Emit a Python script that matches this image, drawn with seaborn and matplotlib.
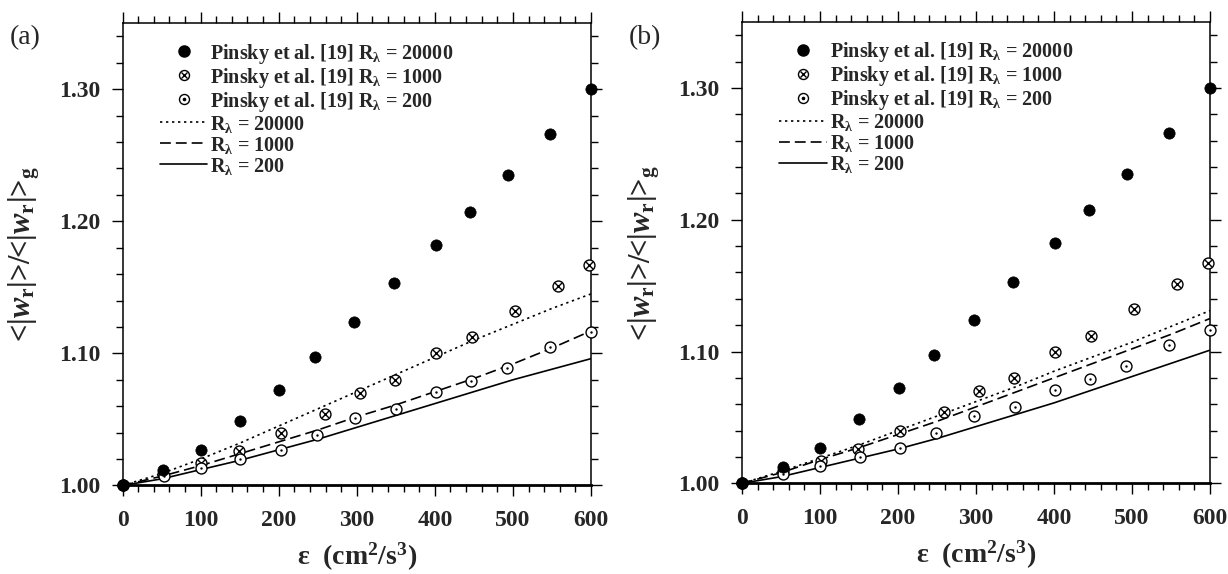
import numpy as np
import pandas as pd
import matplotlib
matplotlib.use("Agg")
import matplotlib.pyplot as plt
import seaborn as sns
from matplotlib.lines import Line2D
from matplotlib.legend_handler import HandlerTuple
from matplotlib.ticker import MultipleLocator, FormatStrFormatter

# ---------------- data ----------------
# Pinsky et al. [19] reference points (same in both panels)
pinsky_20000_x = [0, 52, 100, 150, 201, 246, 297, 348, 401, 445, 494, 547, 600]
pinsky_20000_y = [1.000, 1.012, 1.027, 1.049, 1.072, 1.097, 1.124, 1.153, 1.182, 1.207, 1.235, 1.266, 1.300]

pinsky_1000_x = [0, 52, 101, 149, 203, 259, 304, 349, 401, 448, 503, 558, 597]
pinsky_1000_y = [1.000, 1.009, 1.017, 1.026, 1.040, 1.054, 1.070, 1.080, 1.100, 1.112, 1.132, 1.151, 1.167]

pinsky_200_x = [0, 53, 100, 151, 203, 249, 298, 350, 401, 446, 493, 547, 600]
pinsky_200_y = [1.000, 1.007, 1.013, 1.020, 1.027, 1.038, 1.051, 1.058, 1.071, 1.079, 1.089, 1.105, 1.116]

# model curves
eps = [0, 50, 100, 150, 200, 250, 300, 350, 400, 450, 500, 550, 600]
a_20000 = [1.000, 1.009, 1.020, 1.032, 1.045, 1.058, 1.071, 1.084, 1.097, 1.110, 1.122, 1.134, 1.145]
a_1000 = [1.000, 1.007, 1.015, 1.024, 1.033, 1.042, 1.052, 1.061, 1.071, 1.081, 1.092, 1.104, 1.117]
a_200 = [1.000, 1.005, 1.012, 1.019, 1.027, 1.035, 1.044, 1.053, 1.062, 1.071, 1.080, 1.088, 1.096]

b_20000 = [1.000, 1.009, 1.019, 1.029, 1.040, 1.051, 1.062, 1.073, 1.085, 1.096, 1.107, 1.119, 1.131]
b_1000 = [1.000, 1.008, 1.018, 1.027, 1.037, 1.047, 1.058, 1.069, 1.080, 1.091, 1.102, 1.113, 1.125]
b_200 = [1.000, 1.005, 1.012, 1.019, 1.026, 1.034, 1.043, 1.052, 1.061, 1.071, 1.081, 1.091, 1.101]

panel_labels = ["(a)", "(b)"]
x_ticks = [0, 100, 200, 300, 400, 500, 600]
y_ticks = [1.00, 1.10, 1.20, 1.30]

# ---------------- style ----------------
sns.set_theme(style="ticks")
plt.rcParams["font.family"] = ["Liberation Serif", "DejaVu Serif"]
plt.rcParams["font.weight"] = "bold"
plt.rcParams["mathtext.fontset"] = "custom"
plt.rcParams["mathtext.rm"] = "Liberation Serif"
plt.rcParams["mathtext.it"] = "Liberation Serif:italic"
plt.rcParams["mathtext.bf"] = "Liberation Serif:bold"

fig = plt.figure(figsize=(12.28, 5.74), dpi=100)
ax_a = fig.add_axes([0.0998, 0.1542, 0.3815, 0.8057])
ax_b = fig.add_axes([0.6042, 0.1580, 0.3811, 0.8037])

ms_fill = 66
ms_open = 62

DOT = (0, (1.4, 2.2))
DASH = (0, (6.5, 3.0))


def draw(ax, lines, tag):
    df20 = pd.DataFrame({"x": pinsky_20000_x, "y": pinsky_20000_y})
    df10 = pd.DataFrame({"x": pinsky_1000_x, "y": pinsky_1000_y})
    df2 = pd.DataFrame({"x": pinsky_200_x, "y": pinsky_200_y})
    dfl = pd.DataFrame({"x": eps, "y20000": lines[0], "y1000": lines[1], "y200": lines[2]})

    sns.lineplot(data=dfl, x="x", y="y20000", ax=ax, color="black", lw=1.2,
                 linestyle=DOT, sort=False, estimator=None)
    sns.lineplot(data=dfl, x="x", y="y1000", ax=ax, color="black", lw=1.2,
                 linestyle=DASH, sort=False, estimator=None)
    sns.lineplot(data=dfl, x="x", y="y200", ax=ax, color="black", lw=1.2,
                 linestyle="-", sort=False, estimator=None)

    sns.scatterplot(data=df20, x="x", y="y", ax=ax, marker="o", s=ms_fill,
                    color="black", edgecolor="black", linewidth=0.5, clip_on=False, zorder=5)
    sns.scatterplot(data=df10, x="x", y="y", ax=ax, marker="o", s=ms_open,
                    facecolor="white", edgecolor="black", linewidth=1.0, clip_on=False, zorder=4)
    sns.scatterplot(data=df10, x="x", y="y", ax=ax, marker="x", s=ms_open * 0.42,
                    color="black", linewidth=1.0, clip_on=False, zorder=4)
    sns.scatterplot(data=df2, x="x", y="y", ax=ax, marker="o", s=ms_open,
                    facecolor="white", edgecolor="black", linewidth=1.0, clip_on=False, zorder=4)
    sns.scatterplot(data=df2, x="x", y="y", ax=ax, marker="o", s=3,
                    color="black", linewidth=0, clip_on=False, zorder=4)

    ax.set_xlim(0, 600)
    ax.set_ylim(1.0, 1.35)
    ax.xaxis.set_major_locator(MultipleLocator(100))
    ax.xaxis.set_minor_locator(MultipleLocator(20))
    ax.yaxis.set_major_locator(MultipleLocator(0.10))
    ax.yaxis.set_minor_locator(MultipleLocator(0.02))
    ax.yaxis.set_major_formatter(FormatStrFormatter("%.2f"))
    ax.set_xticks(x_ticks)
    ax.set_yticks(y_ticks)
    ax.tick_params(which="both", direction="out", top=True, right=True,
                   labeltop=False, labelright=False, width=1.0, color="black")
    ax.tick_params(which="major", length=8, labelsize=17)
    ax.tick_params(axis="x", which="major", pad=10)
    ax.tick_params(axis="y", which="major", pad=8)
    ax.tick_params(which="minor", length=5)
    for lab in ax.get_xticklabels() + ax.get_yticklabels():
        lab.set_fontweight("bold")
    for sp in ax.spines.values():
        sp.set_visible(True)
        sp.set_color("black")
        sp.set_linewidth(1.1)
    ax.spines["bottom"].set_linewidth(2.0)

    ax.set_xlabel(r"$\mathrm{\varepsilon}$  (cm$^{\mathbf{2}}$/s$^{\mathbf{3}}$)",
                  fontsize=20, fontweight="bold", labelpad=7)
    ax.set_ylabel(r"<|$\mathit{w}_{\mathbf{r}}$|>/<|$\mathit{w}_{\mathbf{r}}$|>$_{\mathbf{g}}$",
                  fontsize=22, fontweight="bold", labelpad=12)

    h1 = Line2D([], [], ls="none", marker="o", ms=8, color="black")
    h2a = Line2D([], [], ls="none", marker="o", ms=7.2, mfc="white", mec="black", mew=1.0)
    h2b = Line2D([], [], ls="none", marker="x", ms=4.6, color="black", mew=1.0)
    h3a = Line2D([], [], ls="none", marker="o", ms=7.2, mfc="white", mec="black", mew=1.0)
    h3b = Line2D([], [], ls="none", marker="o", ms=1.6, color="black")
    l1 = Line2D([], [], color="black", lw=1.2, ls=DOT)
    l2 = Line2D([], [], color="black", lw=1.2, ls=DASH)
    l3 = Line2D([], [], color="black", lw=1.2, ls="-")
    labels = [r"Pinsky et al. [19] R$_{\mathrm{\lambda}}$ = 20000",
              r"Pinsky et al. [19] R$_{\mathrm{\lambda}}$ = 1000",
              r"Pinsky et al. [19] R$_{\mathrm{\lambda}}$ = 200",
              r"R$_{\mathrm{\lambda}}$ = 20000",
              r"R$_{\mathrm{\lambda}}$ = 1000",
              r"R$_{\mathrm{\lambda}}$ = 200"]
    ax.legend([h1, (h2a, h2b), (h3a, h3b), l1, l2, l3], labels,
              handler_map={tuple: HandlerTuple(ndivide=1, pad=0)},
              loc="upper left", bbox_to_anchor=(0.080, 0.960), frameon=False,
              prop={"family": "Liberation Serif", "weight": "bold", "size": 14.5},
              handlelength=2.35, handletextpad=0.15, labelspacing=0.0,
              borderpad=0, borderaxespad=0)
    fig.text(ax.get_position().x0 - 0.092, 0.935, tag, fontsize=20, fontweight="normal",
             ha="left", va="center")


draw(ax_a, [a_20000, a_1000, a_200], panel_labels[0])
draw(ax_b, [b_20000, b_1000, b_200], panel_labels[1])

fig.savefig("out.png", dpi=100)
